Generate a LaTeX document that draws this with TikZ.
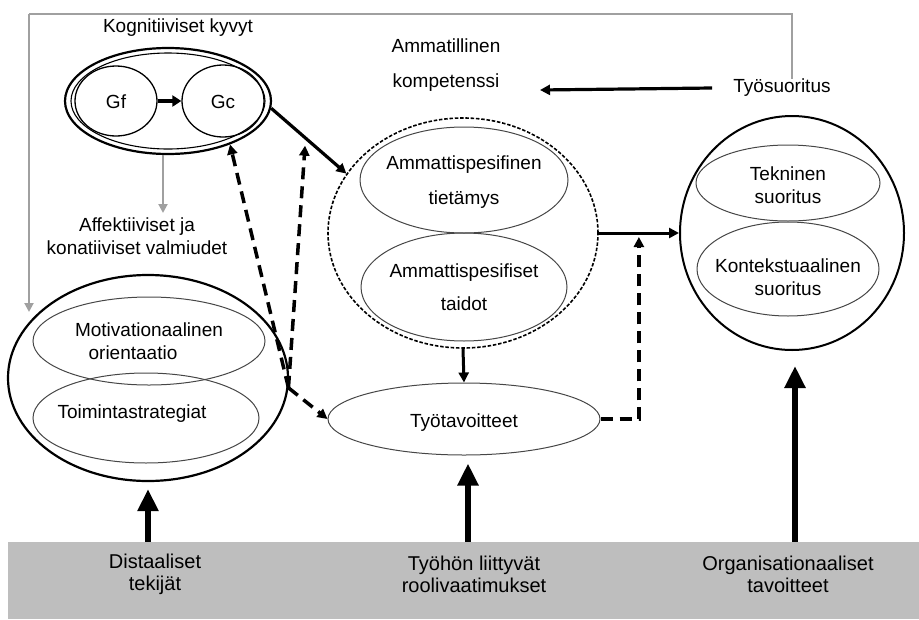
\documentclass[tikz,border=0pt]{standalone}
\usepackage{fontspec}
\setmainfont{Liberation Sans}
\usetikzlibrary{arrows.meta,shapes.geometric,calc}
\definecolor{bandgray}{RGB}{190,190,190}
\definecolor{framegray}{RGB}{160,160,160}
\definecolor{thinline}{RGB}{70,70,70}
\begin{document}
\begin{tikzpicture}[x=1pt,y=-1pt,
  every node/.style={font=\fontsize{19}{23}\selectfont},
  every label/.style={font=\fontsize{19}{23}\selectfont, align=center, inner sep=0pt},
  lbl/.style={align=center, inner sep=0pt},
  oval/.style={ellipse, draw=thinline, line width=1pt, inner sep=0pt},
  bigoval/.style={ellipse, draw=black, line width=2.2pt, inner sep=0pt},
  dashoval/.style={ellipse, draw=black, line width=1.6pt, dash pattern=on 3.5pt off 1.8pt, inner sep=0pt},
  framearr/.style={draw=framegray, line width=2pt, -{Triangle[length=9pt,width=9pt]}},
  solidarr/.style={draw=black, line width=3.2pt, -{Triangle[length=10pt,width=10pt]}},
  dasharr/.style={draw=black, line width=3.5pt, dash pattern=on 12pt off 7pt, -{Triangle[length=10pt,width=10pt]}},
  basearr/.style={draw=black, line width=6pt, -{Triangle[length=22pt,width=20pt]}},
  basetext/.style={align=center, inner sep=0pt, font=\fontsize{20}{22}\selectfont},
  short/.style={text height=14pt, text depth=0pt}]
\useasboundingbox (0,0) rectangle (919,619);

% bottom band with the background factors
\node[fill=bandgray, minimum width=911pt, minimum height=77pt, inner sep=0pt] (band) at (463.5,580.5) {};
\node[basetext] (dist) at (155,574) {Distaaliset\\tekijät};
\node[basetext] (tyoh) at (474,574) {Työhön liittyvät\\roolivaatimukset};
\node[basetext] (org) at (788,574) {Organisationaaliset\\tavoitteet};

% cognitive abilities
\node[lbl] (kogl) at (178,28) {Kognitiiviset kyvyt};
\node[bigoval, minimum width=206pt, minimum height=106pt] (kog) at (168,101) {};
\node[oval, line width=1.1pt, draw=black, minimum width=194pt, minimum height=96pt] (kogin) at (168,101) {};
\node[oval, line width=1.3pt, draw=black, minimum width=82pt, minimum height=70pt,
  label={[short]center:Gf}] (gf) at (116,101) {};
\node[oval, line width=1.3pt, draw=black, minimum width=82pt, minimum height=72pt,
  label={[short]center:Gc}] (gc) at (223,101) {};

% affective and conative readiness
\node[lbl] (aff) at (137,236) {Affektiiviset ja\\konatiiviset valmiudet};
\node[bigoval, minimum width=280pt, minimum height=206pt] (affo) at (148,378) {};
\node[oval, minimum width=232pt, minimum height=88pt,
  label={center:Motivationaalinen\\orientaatio\hspace*{32pt}}] (moti) at (149,341) {};
\node[oval, minimum width=226pt, minimum height=90pt,
  label={[xshift=-14pt,yshift=4pt]center:Toimintastrategiat}] (toim) at (146,418) {};

% occupational competence
\node[lbl] (comp) at (446,65) {Ammatillinen\\[12pt]kompetenssi};
\node[dashoval, minimum width=270pt, minimum height=230pt] (amm) at (463,233) {};
\node[oval, minimum width=208pt, minimum height=106pt,
  label={[yshift=-2pt]center:Ammattispesifinen\\[12pt]tietämys}] (tiet) at (464,180) {};
\node[oval, minimum width=206pt, minimum height=108pt,
  label={center:Ammattispesifiset\\[10pt]taidot}] (taid) at (464,287) {};
\node[oval, minimum width=272pt, minimum height=72pt,
  label={[yshift=-4pt]center:Työtavoitteet}] (tyot) at (464,419) {};

% job performance
\node[lbl] (tyos) at (782,88) {Työsuoritus};
\node[bigoval, line width=2pt, minimum width=224pt, minimum height=234pt] (suor) at (792,233) {};
\node[oval, minimum width=184pt, minimum height=76pt,
  label={[yshift=-2pt]center:Tekninen\\suoritus}] (tekn) at (788,183) {};
\node[oval, minimum width=182pt, minimum height=94pt,
  label={[yshift=-8pt]center:Kontekstuaalinen\\suoritus}] (kont) at (788,269) {};

% feedback frame from job performance
\coordinate (frtl) at (29,14);
\coordinate (frend) at (29,312);
\draw[framearr, -] ([xshift=10pt]tyos.north) |- (frtl);
\draw[framearr] (frtl) -- (frend);
\draw[framearr] (kog.south -| 163,0) -- (163,213);

% main solid connectors
\draw[draw=black, line width=4pt, -{Triangle[length=9pt,width=11pt]}] (gf.east) -- (gc.west);
\draw[solidarr] (kog.-4) -- (amm.153);
\coordinate (modpt) at ($(kog.-4)!0.45!(amm.153)$);
\draw[solidarr] ([xshift=-21pt]tyos.west) -- (540,90);
\draw[solidarr, line width=3pt] (amm.east) -- (suor.west);
\draw[solidarr, line width=3pt] (amm.south) -- (tyot.north);

% dashed influences
\coordinate (src) at (affo.-4);
\coordinate (mid) at ($(amm.east)!0.5!(suor.west)$);
\draw[dasharr] (src) -- (kog.-35);
\draw[dasharr] (src) -- ([yshift=-8pt]modpt);
\draw[dasharr] (src) -- (tyot.west);
\draw[dasharr] (tyot.east) -| ([yshift=-4pt]mid);

% background factors
\draw[basearr, shorten >=7pt] (band.north -| affo.south) -- (affo.south);
\draw[basearr, shorten >=8pt] (band.north -| 468,0) -- (tyot.south -| 468,0);
\draw[basearr, shorten >=15pt] (band.north -| 795,0) -- (suor.south -| 795,0);
\end{tikzpicture}
\end{document}
